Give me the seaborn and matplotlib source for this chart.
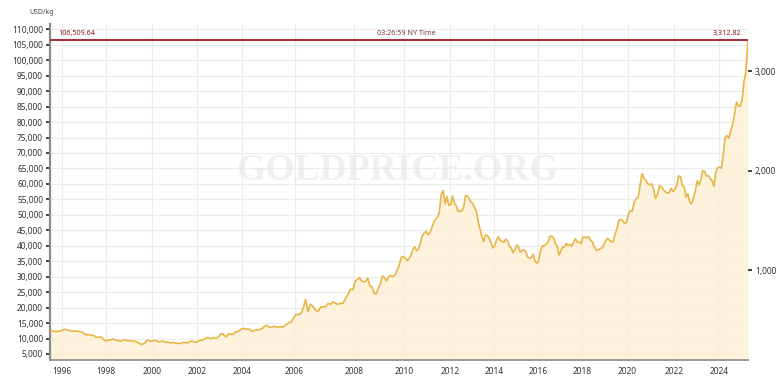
import numpy as np
import pandas as pd
import seaborn as sns
from matplotlib import pyplot as plt
from matplotlib import transforms
from matplotlib.ticker import FuncFormatter

# troy ounces in one kilogram, links the USD/kg (left) and USD/oz (right) axes
OZ_PER_KG = 32.1507

# monthly gold price in USD/oz (Jun 1995 .. Mar 2025)
PRICE_1995_2004 = [
    387.6, 386.2, 383.7, 383.0, 383.1, 386.0, 387.4,
    399.5, 404.8, 396.2, 392.8, 391.9, 385.3, 383.5, 387.5, 383.1, 381.1, 377.9, 369.0,
    355.0, 346.6, 351.8, 344.5, 343.8, 340.8, 324.1, 324.0, 322.8, 324.9, 306.0, 288.7,
    289.2, 297.5, 295.9, 308.4, 299.1, 292.3, 292.9, 284.1, 289.0, 295.9, 294.1, 291.6,
    287.1, 287.3, 285.9, 282.6, 276.4, 261.3, 252.0, 256.7, 264.7, 295.0, 292.0, 283.1,
    284.3, 295.0, 286.4, 280.0, 275.3, 285.7, 281.6, 274.5, 273.7, 270.0, 266.0, 271.5,
    265.5, 261.9, 263.0, 260.5, 272.4, 270.2, 267.5, 272.4, 283.4, 283.1, 276.2, 275.9,
    281.7, 295.5, 294.0, 302.7, 314.5, 321.2, 313.3, 310.3, 319.2, 316.6, 319.2, 333.4,
    356.9, 359.0, 340.6, 328.2, 355.7, 356.4, 351.0, 359.8, 378.9, 378.9, 389.9, 407.6,
    414.0, 405.3, 406.7, 403.0, 383.8, 392.4, 398.1, 400.5, 405.3, 420.5, 439.4, 442.1,
]
PRICE_2005_2014 = [
    424.0, 423.4, 434.2, 428.9, 421.9, 430.7, 424.5, 437.9, 456.0, 469.9, 476.7, 510.1,
    549.9, 555.0, 557.1, 610.6, 705.0, 581.0, 658.0, 632.6, 598.2, 581.0, 627.8, 629.8,
    631.2, 664.8, 654.9, 679.4, 666.9, 655.5, 665.3, 665.4, 712.7, 754.6, 806.3, 803.2,
    889.6, 905.0, 925.0, 890.0, 880.0, 889.5, 917.0, 839.0, 829.9, 765.0, 760.9, 816.1,
    858.7, 943.2, 924.3, 890.2, 928.6, 945.7, 934.2, 949.4, 996.6, 1043.2, 1127.0, 1134.7,
    1118, 1095, 1113, 1149, 1205, 1233, 1193, 1216, 1271, 1342, 1370, 1391,
    1356, 1373, 1424, 1474, 1510, 1529, 1573, 1756, 1800, 1665, 1739, 1652,
    1656, 1743, 1674, 1650, 1586, 1597, 1594, 1626, 1745, 1747, 1722, 1685,
    1672, 1628, 1593, 1488, 1414, 1343, 1286, 1352, 1349, 1317, 1276, 1222,
    1244, 1300, 1336, 1299, 1288, 1279, 1311, 1295, 1237, 1223, 1175, 1201,
]
PRICE_2015_2025 = [
    1252, 1227, 1179, 1199, 1199, 1182, 1128, 1118, 1125, 1159, 1086, 1068,
    1098, 1200, 1245, 1242, 1261, 1276, 1337, 1340, 1327, 1267, 1238, 1151,
    1192, 1234, 1231, 1267, 1246, 1260, 1237, 1283, 1314, 1280, 1282, 1265,
    1331, 1331, 1325, 1335, 1304, 1282, 1238, 1202, 1198, 1215, 1221, 1250,
    1292, 1320, 1301, 1286, 1284, 1359, 1413, 1500, 1511, 1495, 1470, 1479,
    1561, 1597, 1592, 1683, 1716, 1732, 1847, 1969, 1922, 1900, 1866, 1858,
    1867, 1808, 1718, 1760, 1850, 1835, 1808, 1785, 1775, 1777, 1822, 1790,
    1816, 1856, 1948, 1937, 1849, 1837, 1733, 1765, 1680, 1665, 1726, 1798,
    1898, 1855, 1913, 2000, 1991, 1943, 1951, 1919, 1900, 1840, 1986, 2030,
    2034, 2023, 2158, 2331, 2352, 2326, 2400, 2470, 2571, 2690, 2651, 2648,
    2710, 2895, 2983,
]
LAST_DATE = "2025-04-21"
LAST_PRICE_OZ = 3312.82
LAST_PRICE_KG = 106509.64
TIME_LABEL = "03:26:59 NY Time"

YEAR_TICKS = list(range(1996, 2025, 2))
KG_TICKS = list(range(5000, 110001, 5000))
OZ_TICKS = [1000, 2000, 3000]

# the source chart spaces its years unevenly; calibration of that axis
AXIS_YEARS = [1994] + YEAR_TICKS + [2026]
AXIS_POS = [18, 62.3, 106.3, 151.7, 197.3, 242.3, 294.3, 354, 404,
            449.3, 493.3, 537.3, 581.3, 626.7, 673.3, 717.7, 762.7]


def fwd(x):
    return np.interp(x, AXIS_YEARS, AXIS_POS)


def inv(p):
    return np.interp(p, AXIS_POS, AXIS_YEARS)


def build_frame():
    prices = PRICE_1995_2004 + PRICE_2005_2014 + PRICE_2015_2025
    dates = pd.date_range("1995-06-01", periods=len(prices), freq="MS") + pd.Timedelta(days=14)
    dates = dates.append(pd.DatetimeIndex([LAST_DATE]))
    prices = prices + [LAST_PRICE_OZ]
    year = dates.year + (dates.dayofyear - 1) / 365.25
    return pd.DataFrame({"year": year, "usd_kg": np.array(prices) * OZ_PER_KG})


def main():
    sns.set_style("white")
    plt.rcParams["font.family"] = ["Noto Sans", "DejaVu Sans"]

    df = build_frame()

    fig = plt.figure(figsize=(7.77, 3.82), dpi=100)
    ax = fig.add_axes([50 / 777, 22 / 382, 698 / 777, 336 / 382])
    ax.set_xscale("function", functions=(fwd, inv))

    ax.fill_between(df["year"], df["usd_kg"], 0, color="#fdefd2", alpha=0.8, lw=0, zorder=1)
    sns.lineplot(data=df, x="year", y="usd_kg", ax=ax, color="#e8b547", lw=1.2, zorder=3)

    ax.set_xlim(df["year"].iloc[0], df["year"].iloc[-1])
    ax.set_ylim(3060, 111700)
    ax.set_xticks(YEAR_TICKS)
    ax.set_xticklabels([str(y) for y in YEAR_TICKS])
    ax.set_yticks(KG_TICKS)
    ax.yaxis.set_major_formatter(FuncFormatter(lambda v, p: f"{v:,.0f}"))
    ax.set_xlabel("")
    ax.set_ylabel("")
    ax.grid(True, color="#ececec", lw=0.8, zorder=0)
    ax.set_axisbelow(True)

    for side in ["top", "right"]:
        ax.spines[side].set_visible(False)
    ax.spines["left"].set_color("#8a8a8a")
    ax.spines["left"].set_linewidth(1.6)
    ax.spines["bottom"].set_color("#9a9a9a")
    ax.spines["bottom"].set_linewidth(1.4)
    ax.tick_params(axis="both", length=3, width=1.3, color="#333333",
                   labelsize=6, labelcolor="#333333", pad=2)

    # right axis in USD/oz
    ax2 = ax.twinx()
    lo, hi = ax.get_ylim()
    ax2.set_ylim(lo / OZ_PER_KG, hi / OZ_PER_KG)
    ax2.set_yticks(OZ_TICKS)
    ax2.yaxis.set_major_formatter(FuncFormatter(lambda v, p: f"{v:,.0f}"))
    for side in ["top", "right", "left", "bottom"]:
        ax2.spines[side].set_visible(False)
    ax2.tick_params(axis="y", length=3, width=1.3, color="#333333",
                    labelsize=6, labelcolor="#333333", pad=2)
    ax2.grid(False)

    # current price line and labels
    ax.axhline(LAST_PRICE_KG, color="#a82838", lw=1.4, zorder=4)
    trans = transforms.blended_transform_factory(ax.transAxes, ax.transData)
    ax.text(0.012, LAST_PRICE_KG + 900, f"{LAST_PRICE_KG:,.2f}", transform=trans,
            ha="left", va="bottom", fontsize=5.2, color="#8b1a1a", fontweight="bold")
    ax.text(0.511, LAST_PRICE_KG + 900, TIME_LABEL, transform=trans,
            ha="center", va="bottom", fontsize=5.2, color="#7a3a3a")
    ax.text(0.99, LAST_PRICE_KG + 900, f"{LAST_PRICE_OZ:,.2f}", transform=trans,
            ha="right", va="bottom", fontsize=5.2, color="#8b1a1a", fontweight="bold")

    # watermark
    ax.text(0.497, 0.565, "GOLDPRICE.ORG", transform=ax.transAxes, ha="center",
            va="center", fontsize=27, family="Liberation Serif", fontweight="bold",
            color="#e6e6e6", alpha=0.6, zorder=2)

    fig.text(29 / 777, 1 - 12.7 / 382, "USD/kg", ha="left", va="center",
             fontsize=5, color="#444444")

    fig.savefig("out.png", dpi=100)


if __name__ == "__main__":
    main()
